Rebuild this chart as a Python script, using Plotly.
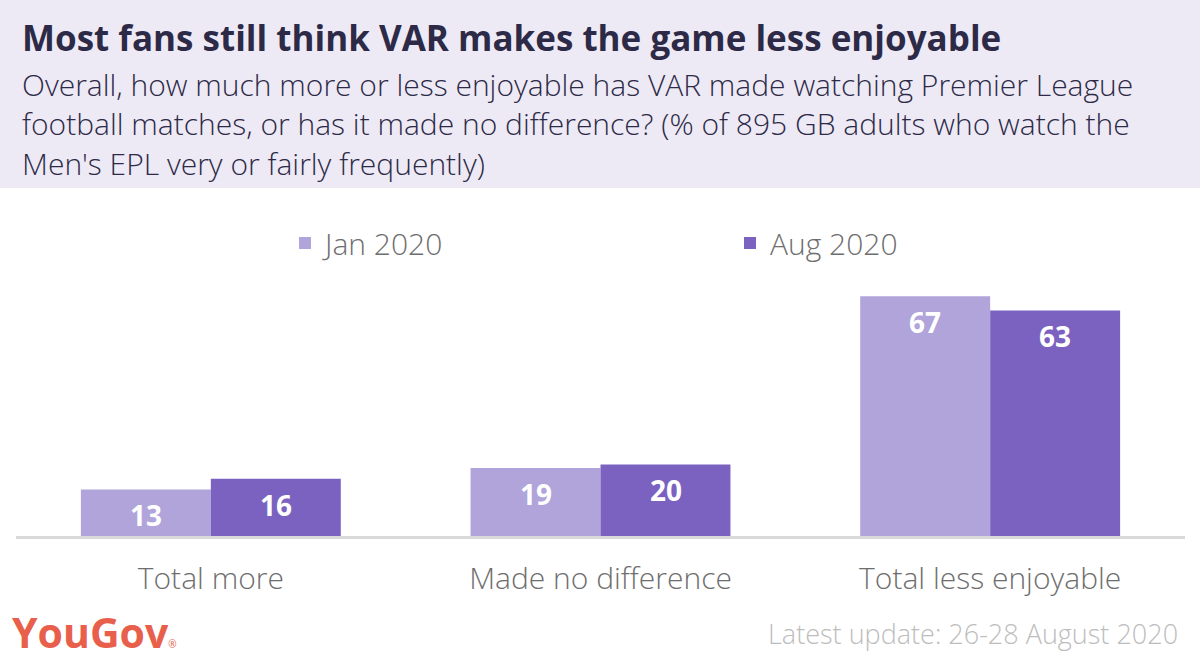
import plotly.graph_objects as go

# ---- data ----
categories = ["Total more", "Made no difference", "Total less enjoyable"]
jan_2020 = [13, 19, 67]
aug_2020 = [16, 20, 63]
series_names = ["Jan 2020", "Aug 2020"]

title = "Most fans still think VAR makes the game less enjoyable"
subtitle_lines = [
    "Overall, how much more or less enjoyable has VAR made watching Premier League",
    "football matches, or has it made no difference? (% of 895 GB adults who watch the",
    "Men's EPL very or fairly frequently)",
]
footer = "Latest update: 26-28 August 2020"

# ---- style ----
W, H = 1200, 660
ML, MR, MT, MB = 16, 15, 212, 124
PW, PH = W - ML - MR, H - MT - MB
YMAX = 90.5
C_JAN = "#B0A4DA"
C_AUG = "#7B62C0"
HEADER_BG = "#EDEAF5"
DARK = "#2D2A48"
FONT = "Open Sans"


def px_x(p):
    return (p - ML) / PW


def px_y(p):
    return (H - MB - p) / PH


fig = go.Figure()
fig.add_trace(go.Bar(x=categories, y=jan_2020, name=series_names[0],
                     marker=dict(color=C_JAN, line=dict(width=0))))
fig.add_trace(go.Bar(x=categories, y=aug_2020, name=series_names[1],
                     marker=dict(color=C_AUG, line=dict(width=0))))

annotations = []
# value labels inside bars, near the top
for vals, shift in ((jan_2020, -65), (aug_2020, 65)):
    for c, v in zip(categories, vals):
        annotations.append(dict(x=c, y=v, xref="x", yref="y", text=str(v),
                                showarrow=False, xshift=shift, yshift=-26,
                                yanchor="middle",
                                font=dict(family=FONT, size=28, color="white", weight=700)))

# header
annotations.append(dict(x=px_x(20), y=px_y(37), xref="paper", yref="paper", text=f"<b>{title}</b>",
                        showarrow=False, xanchor="left", yanchor="middle",
                        font=dict(family=FONT, size=35, color=DARK)))
for i, (line, yc) in enumerate(zip(subtitle_lines, (84, 124, 163))):
    annotations.append(dict(x=px_x(20), y=px_y(yc), xref="paper", yref="paper", text=line,
                            showarrow=False, xanchor="left", yanchor="middle",
                            font=dict(family=FONT, size=30, color=DARK, weight=300)))
# logo
annotations.append(dict(x=px_x(10), y=px_y(632), xref="paper", yref="paper",
                        text="<b>YouGov</b><span style='font-size:10px'>®</span>",
                        showarrow=False, xanchor="left", yanchor="middle",
                        font=dict(family=FONT, size=41, color="#E8604C")))
# footer
annotations.append(dict(x=px_x(1180), y=px_y(633), xref="paper", yref="paper", text=footer,
                        showarrow=False, xanchor="right", yanchor="middle",
                        font=dict(family=FONT, size=27, color="#BDBDBD", weight=300)))

shapes = [dict(type="rect", xref="paper", yref="paper", x0=px_x(0), x1=px_x(W),
               y0=px_y(188), y1=px_y(0), fillcolor=HEADER_BG, line=dict(width=0), layer="below")]

fig.update_layout(
    width=W, height=H,
    margin=dict(l=ML, r=MR, t=MT, b=MB, pad=0),
    paper_bgcolor="white", plot_bgcolor="white",
    barmode="group", bargap=0.333, bargroupgap=0,
    showlegend=True,
    legend=dict(orientation="h", x=px_x(285), y=px_y(243), xanchor="left", yanchor="middle",
                entrywidth=400, entrywidthmode="pixels", traceorder="normal",
                font=dict(family=FONT, size=30, color="#6E6E6E", weight=300),
                bgcolor="rgba(0,0,0,0)"),
    xaxis=dict(showline=True, linecolor="#D9D9D9", linewidth=3, ticks="", showgrid=False,
               zeroline=False, ticklabelstandoff=14,
               tickfont=dict(family=FONT, size=30, color="#6E6E6E", weight=300),
               fixedrange=True),
    yaxis=dict(range=[0, YMAX], visible=False, showgrid=False, zeroline=False, fixedrange=True),
    annotations=annotations,
    shapes=shapes,
    font=dict(family=FONT),
    hovermode=False,
)

fig.write_html("out.html", config={"displayModeBar": False})
